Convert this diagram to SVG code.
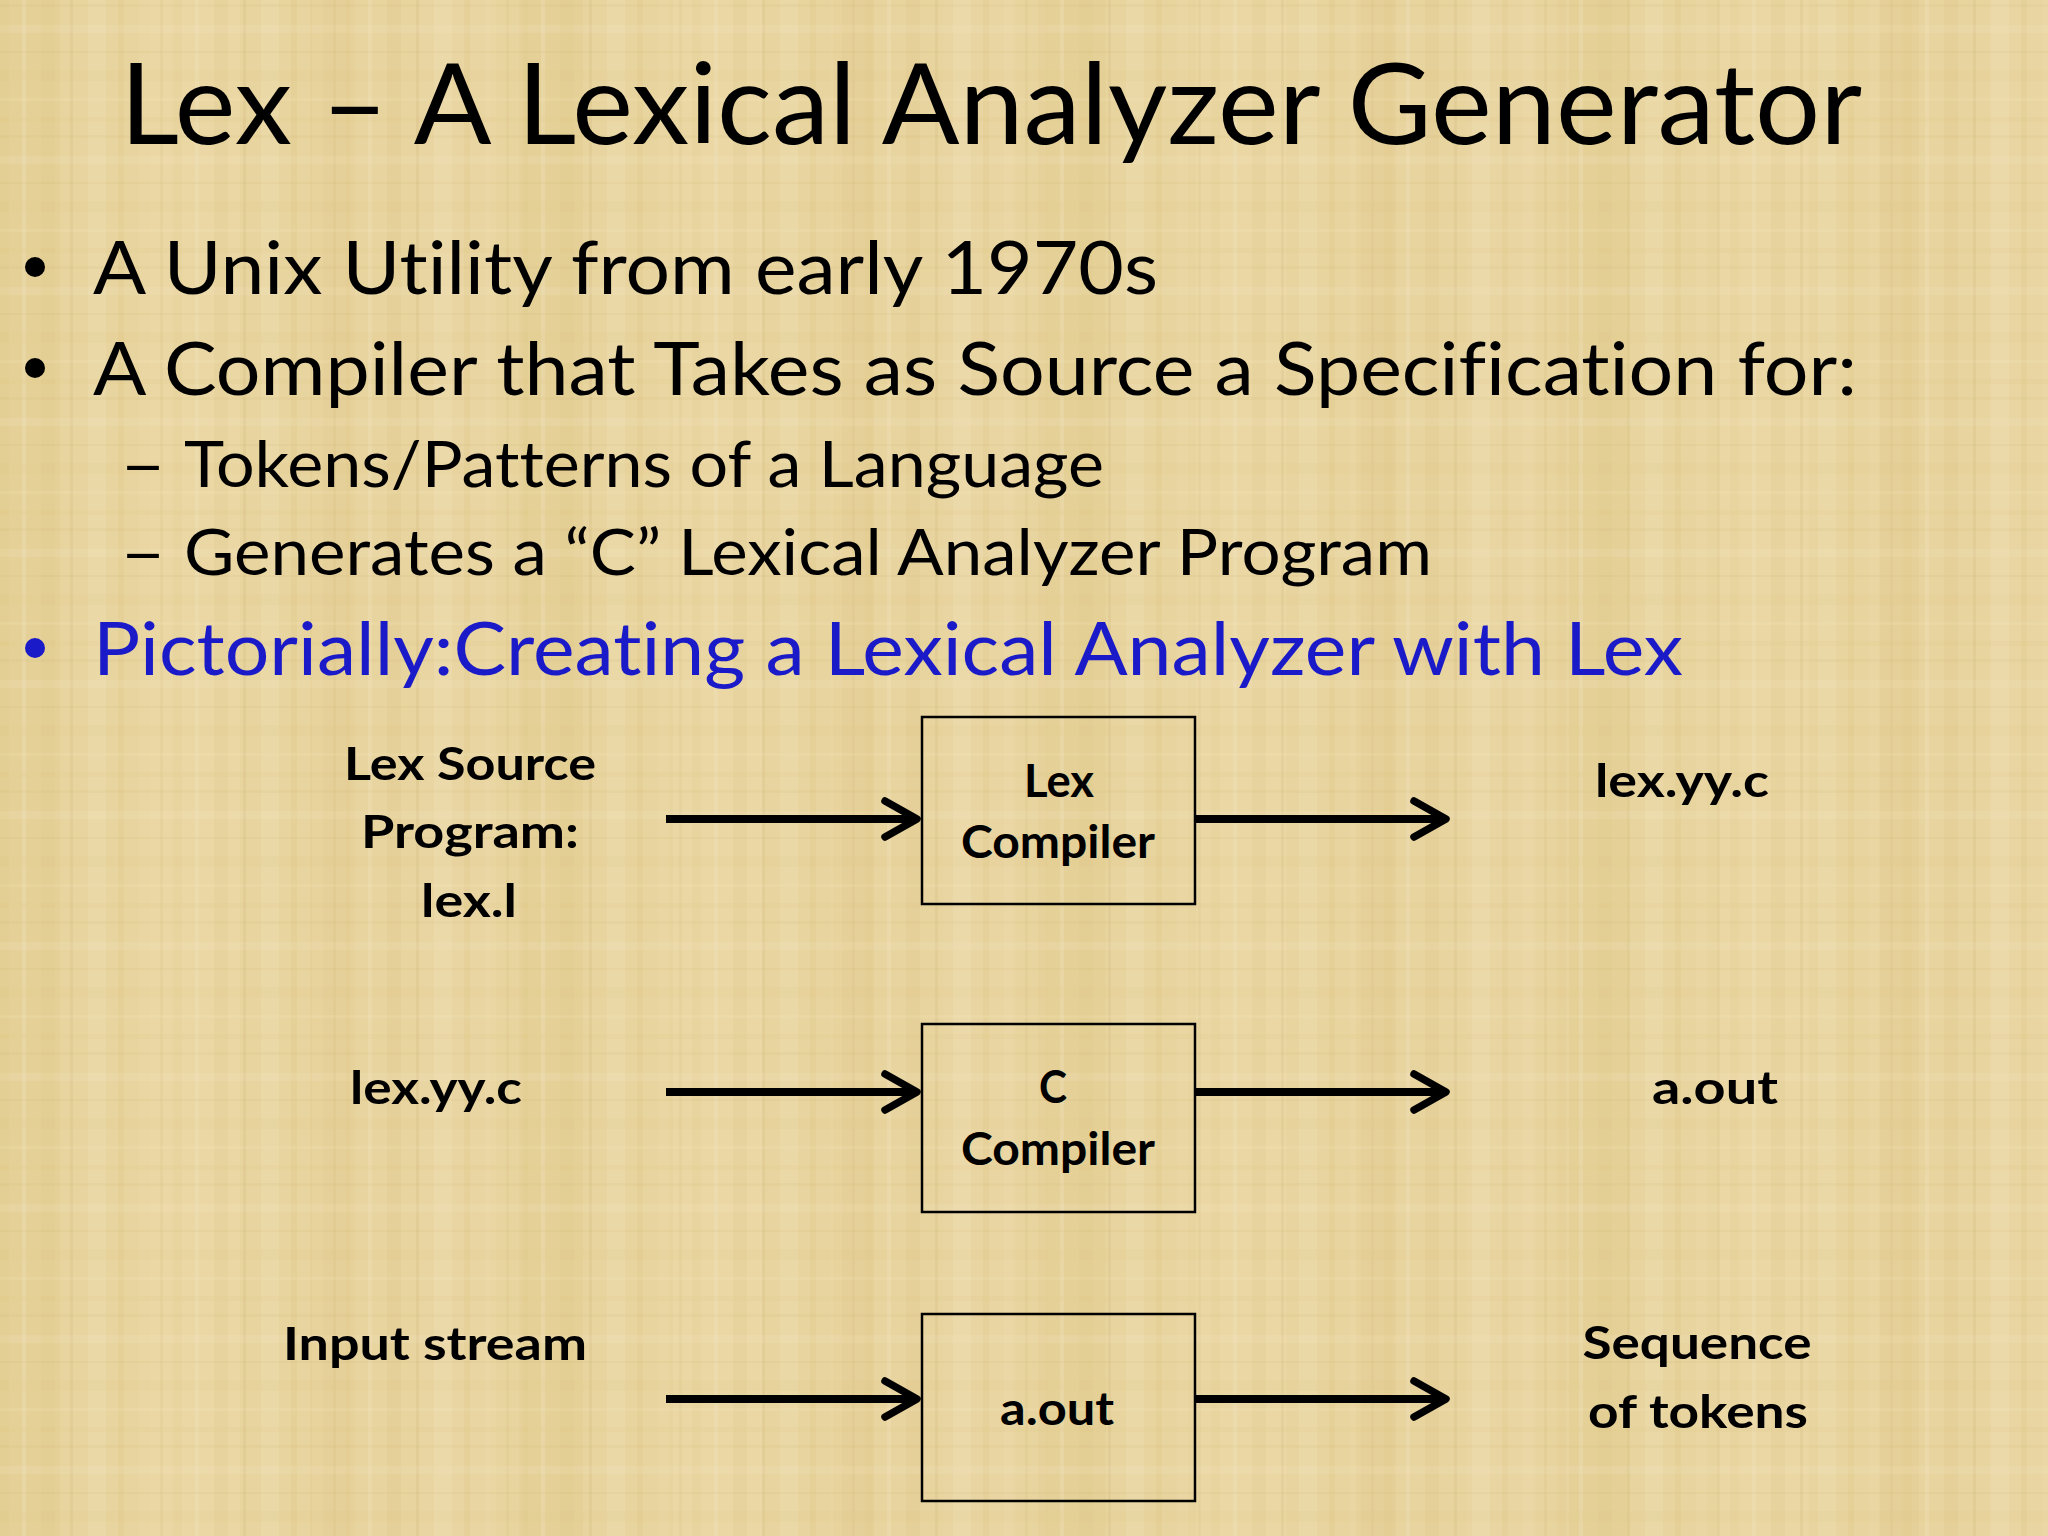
<svg xmlns="http://www.w3.org/2000/svg" width="2048" height="1536" viewBox="0 0 2048 1536">
  <defs>
    <style>
      text { font-variant-ligatures: none; font-feature-settings: "liga" 0, "clig" 0; }
      .title { font-family: Lato, "Open Sans", "Liberation Sans", sans-serif; font-size: 112px; fill: #000; }
      .b1 { font-family: Lato, "Open Sans", "Liberation Sans", sans-serif; font-size: 74px; fill: #000; }
      .b2 { font-family: Lato, "Open Sans", "Liberation Sans", sans-serif; font-size: 63px; fill: #000; }
      .blue { fill: #1a1ac8; }
      .lbl { font-family: Lato, "Open Sans", "Liberation Sans", sans-serif; font-size: 45px; font-weight: bold; fill: #000; text-anchor: middle; }
      .box { fill: none; stroke: #000; stroke-width: 2.5; }
      .conn { stroke: #000; stroke-width: 8; fill: none; marker-end: url(#chev); }
    </style>
    <marker id="chev" markerUnits="userSpaceOnUse" viewBox="-40 -26 48 52" markerWidth="48" markerHeight="52" refX="0" refY="0" orient="auto">
      <path d="M-32,-18 L0,0 L-32,18" fill="none" stroke="#000" stroke-width="7.5" stroke-linecap="round" stroke-linejoin="round"/>
    </marker>
    <pattern id="vstreak" width="173" height="20" patternUnits="userSpaceOnUse">
      <rect x="0" y="0" width="9" height="20" fill="#c9ab55" opacity="0.08"/>
      <rect x="22" y="0" width="4" height="20" fill="#f7ead0" opacity="0.2"/>
      <rect x="41" y="0" width="14" height="20" fill="#d3b766" opacity="0.1"/>
      <rect x="70" y="0" width="3" height="20" fill="#b89a4c" opacity="0.1"/>
      <rect x="88" y="0" width="18" height="20" fill="#f6e8c6" opacity="0.18"/>
      <rect x="118" y="0" width="6" height="20" fill="#c7a950" opacity="0.11"/>
      <rect x="139" y="0" width="11" height="20" fill="#f2e1b6" opacity="0.16"/>
      <rect x="160" y="0" width="3" height="20" fill="#b3954a" opacity="0.08"/>
    </pattern>
    <pattern id="hstreak" width="20" height="131" patternUnits="userSpaceOnUse">
      <rect x="0" y="4" width="20" height="3" fill="#bca050" opacity="0.07"/>
      <rect x="0" y="25" width="20" height="8" fill="#f7ead0" opacity="0.14"/>
      <rect x="0" y="51" width="20" height="2" fill="#b39648" opacity="0.08"/>
      <rect x="0" y="70" width="20" height="11" fill="#d8bd72" opacity="0.07"/>
      <rect x="0" y="98" width="20" height="3" fill="#f5e6c2" opacity="0.15"/>
      <rect x="0" y="117" width="20" height="5" fill="#c2a655" opacity="0.06"/>
    </pattern>
    <pattern id="wide" width="523" height="20" patternUnits="userSpaceOnUse">
      <rect x="0" y="0" width="60" height="20" fill="#d9bf6e" opacity="0.14"/>
      <rect x="150" y="0" width="90" height="20" fill="#f3e3bd" opacity="0.18"/>
      <rect x="310" y="0" width="40" height="20" fill="#d6bb6a" opacity="0.12"/>
      <rect x="420" y="0" width="70" height="20" fill="#f1dfb6" opacity="0.15"/>
    </pattern>
  </defs>

  <g id="background">
    <rect x="0" y="0" width="2048" height="1536" fill="#e8d49f"/>
    <rect x="0" y="0" width="2048" height="1536" fill="url(#wide)"/>
    <rect x="0" y="0" width="2048" height="1536" fill="url(#vstreak)"/>
    <rect x="0" y="0" width="2048" height="1536" fill="url(#hstreak)"/>
  </g>

  <g id="title">
    <text class="title" x="120" y="144" textLength="1742" lengthAdjust="spacingAndGlyphs">Lex – A Lexical Analyzer Generator</text>
  </g>

  <g id="bullets">
    <circle cx="35" cy="267" r="10" fill="#000"/>
    <text class="b1" x="93" y="294" textLength="1065" lengthAdjust="spacingAndGlyphs">A Unix Utility from early 1970s</text>
    <circle cx="35" cy="368" r="10" fill="#000"/>
    <text class="b1" x="93" y="395" textLength="1764" lengthAdjust="spacingAndGlyphs">A Compiler that Takes as Source a Specification for:</text>
    <text class="b2" x="120" y="487" textLength="46" lengthAdjust="spacingAndGlyphs">–</text>
    <text class="b2" x="184" y="487" textLength="920" lengthAdjust="spacingAndGlyphs">Tokens/Patterns of a Language</text>
    <text class="b2" x="120" y="575" textLength="46" lengthAdjust="spacingAndGlyphs">–</text>
    <text class="b2" x="184" y="575" textLength="1248" lengthAdjust="spacingAndGlyphs">Generates a “C” Lexical Analyzer Program</text>
    <circle cx="35" cy="648" r="10" fill="#1a1ac8"/>
    <text class="b1 blue" x="93" y="675" textLength="1590" lengthAdjust="spacingAndGlyphs">Pictorially:Creating a Lexical Analyzer with Lex</text>
  </g>

  <g id="connectors">
    <line class="conn" x1="666" y1="819" x2="917" y2="819"/>
    <line class="conn" x1="1195" y1="819" x2="1446" y2="819"/>
    <line class="conn" x1="666" y1="1092" x2="917" y2="1092"/>
    <line class="conn" x1="1195" y1="1092" x2="1446" y2="1092"/>
    <line class="conn" x1="666" y1="1399" x2="917" y2="1399"/>
    <line class="conn" x1="1195" y1="1399" x2="1446" y2="1399"/>
  </g>

  <g id="lex-source">
    <text class="lbl" x="470" y="780" textLength="252" lengthAdjust="spacingAndGlyphs">Lex Source</text>
    <text class="lbl" x="470" y="848" textLength="218" lengthAdjust="spacingAndGlyphs">Program:</text>
    <text class="lbl" x="469" y="917" textLength="96" lengthAdjust="spacingAndGlyphs">lex.l</text>
  </g>
  <g id="lex-compiler">
    <rect class="box" x="922" y="717" width="273" height="187"/>
    <text class="lbl" x="1059" y="797" textLength="70" lengthAdjust="spacingAndGlyphs">Lex</text>
    <text class="lbl" x="1058" y="858" textLength="194" lengthAdjust="spacingAndGlyphs">Compiler</text>
  </g>
  <g id="lex-yy-c-out">
    <text class="lbl" x="1682" y="797" textLength="174" lengthAdjust="spacingAndGlyphs">lex.yy.c</text>
  </g>

  <g id="lex-yy-c-in">
    <text class="lbl" x="436" y="1104" textLength="172" lengthAdjust="spacingAndGlyphs">lex.yy.c</text>
  </g>
  <g id="c-compiler">
    <rect class="box" x="922" y="1024" width="273" height="188"/>
    <text class="lbl" x="1053" y="1103" textLength="28" lengthAdjust="spacingAndGlyphs">C</text>
    <text class="lbl" x="1058" y="1165" textLength="194" lengthAdjust="spacingAndGlyphs">Compiler</text>
  </g>
  <g id="a-out-file">
    <text class="lbl" x="1715" y="1104" textLength="126" lengthAdjust="spacingAndGlyphs">a.out</text>
  </g>

  <g id="input-stream">
    <text class="lbl" x="435" y="1360" textLength="304" lengthAdjust="spacingAndGlyphs">Input stream</text>
  </g>
  <g id="a-out-box">
    <rect class="box" x="922" y="1314" width="273" height="187"/>
    <text class="lbl" x="1057" y="1425" textLength="114" lengthAdjust="spacingAndGlyphs">a.out</text>
  </g>
  <g id="sequence-of-tokens">
    <text class="lbl" x="1697" y="1359" textLength="229" lengthAdjust="spacingAndGlyphs">Sequence</text>
    <text class="lbl" x="1698" y="1428" textLength="220" lengthAdjust="spacingAndGlyphs">of tokens</text>
  </g>
</svg>
